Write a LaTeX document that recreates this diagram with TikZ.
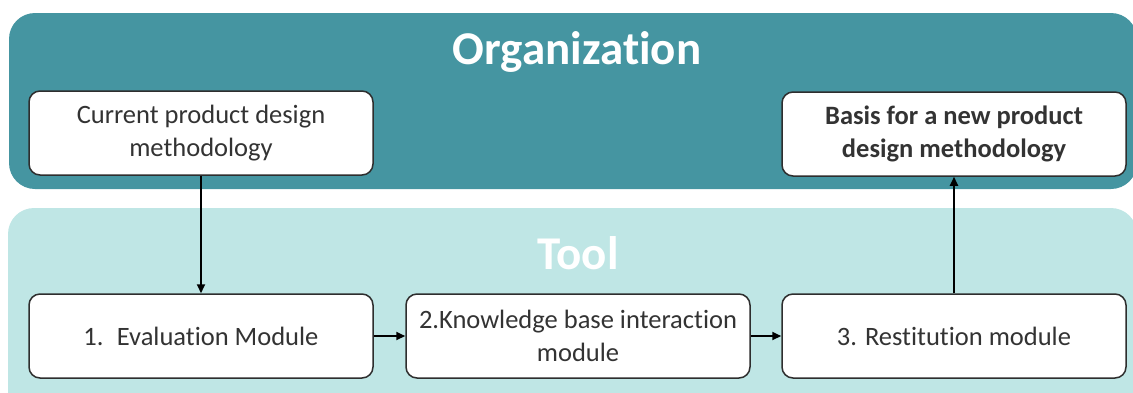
\documentclass[tikz,border=0pt]{standalone}
\usepackage{fontspec}
\setmainfont{Carlito}[Ligatures={NoCommon}]
\usetikzlibrary{arrows.meta,positioning}
\definecolor{orgteal}{HTML}{4595A1}
\definecolor{toolteal}{HTML}{BFE6E5}
\definecolor{boxline}{HTML}{2E2E2E}
\definecolor{boxtext}{HTML}{333333}
\tikzset{
  modbox/.style={draw=boxline, line width=1.5pt, fill=white, rounded corners=11pt,
    minimum width=344pt, minimum height=84pt, align=center, text=boxtext,
    font=\fontsize{26.5}{33}\selectfont},
  flow/.style={-{Triangle[length=9pt,width=8pt]}, line width=2pt, black},
  bandtitle/.style={text=white, font=\fontsize{47}{52}\selectfont\bfseries}
}
\begin{document}
\begin{tikzpicture}[x=1pt,y=-1pt]
\useasboundingbox (0,0) rectangle (1133,392);
\clip (0,0) rectangle (1133,392);
% bands
\fill[orgteal, rounded corners=26pt] (9,13) rectangle (1137,189);
\fill[toolteal, rounded corners=26pt] (8,208) rectangle (1137,420);
\node[bandtitle] (orgtitle) at (577,52) {Organization};
\node[bandtitle] (tooltitle) at (578,253) {Tool};

% modules
\node[modbox] (current) at (201,133) {Current product design\\methodology};
\node[modbox, font=\fontsize{26.5}{33}\selectfont\bfseries] (basis) at (954,134) {Basis for a new product\\design methodology};
\node[modbox] (eval) at (201,336) {1.\enspace Evaluation Module};
\node[modbox] (know) at (578,336) {2.Knowledge base interaction\\module};
\node[modbox] (rest) at (954,336) {3. Restitution module};

\draw[flow] (current) -- (eval);
\draw[flow] (eval) -- (know);
\draw[flow] (know) -- (rest);
\draw[flow] (rest) -- (basis);
\end{tikzpicture}
\end{document}
